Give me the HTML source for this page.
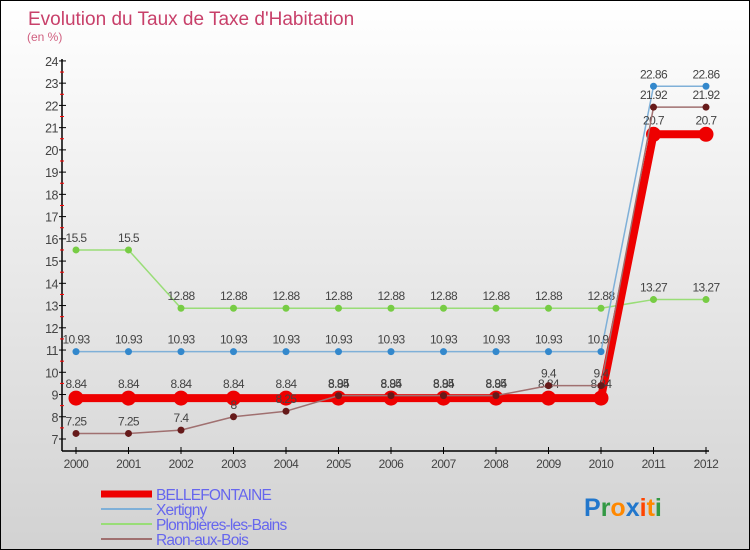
<!DOCTYPE html>
<html><head><meta charset="utf-8"><style>
html,body{margin:0;padding:0}
body{width:750px;height:550px;overflow:hidden;font-family:"Liberation Sans",sans-serif}
#wrap{position:relative;width:748px;height:548px;border:1px solid #000;background:linear-gradient(#ffffff,#d2d2d2)}
</style></head><body>
<div id="wrap">
<svg id="chart" width="748" height="548" style="position:absolute;left:0;top:0"></svg>
</div>
<script>
const years=["2000","2001","2002","2003","2004","2005","2006","2007","2008","2009","2010","2011","2012"];
const bellefontaine=[8.84,8.84,8.84,8.84,8.84,8.84,8.84,8.84,8.84,8.84,8.84,20.7,20.7];
const xertigny=[10.93,10.93,10.93,10.93,10.93,10.93,10.93,10.93,10.93,10.93,10.93,22.86,22.86];
const plombieres=[15.5,15.5,12.88,12.88,12.88,12.88,12.88,12.88,12.88,12.88,12.88,13.27,13.27];
const raon=[7.25,7.25,7.4,8,8.25,8.95,8.95,8.95,8.95,9.4,9.4,21.92,21.92];
const yTicks=[7,8,9,10,11,12,13,14,15,16,17,18,19,20,21,22,23,24];
const seriesNames=["BELLEFONTAINE","Xertigny","Plombières-les-Bains","Raon-aux-Bois"];

const NS="http://www.w3.org/2000/svg";
const svg=document.getElementById('chart');
function X(i){return 75+i*52.5;}
function Y(v){return 438-(v-7)*22.24;}
function mk(t,a,p){const e=document.createElementNS(NS,t);for(const k in a)e.setAttribute(k,a[k]);(p||svg).appendChild(e);return e;}

let t=mk('text',{x:27,y:24,fill:'#c8406a','font-size':19});t.textContent='Evolution du Taux de Taxe d\'Habitation';

t=mk('text',{x:26,y:40,fill:'#d06080','font-size':12});t.textContent='(en %)';


// axes
let ax=mk('line',{x1:61,y1:58,x2:61,y2:450,stroke:'#000','stroke-width':1.5});

ax=mk('line',{x1:61,y1:450,x2:708,y2:450,stroke:'#000','stroke-width':1.5});

yTicks.forEach(v=>{
  mk('line',{x1:58,y1:Y(v),x2:65,y2:Y(v),stroke:'#000'});
  if(v<24)mk('line',{x1:59,y1:Y(v+0.5),x2:63,y2:Y(v+0.5),stroke:'#f00'});
  const l=mk('text',{x:57,y:Y(v)+5,'text-anchor':'end',fill:'#444','font-size':12.5,'letter-spacing':'-0.5'});l.textContent=v;
  
});
years.forEach((y,i)=>{
  mk('line',{x1:X(i),y1:446,x2:X(i),y2:453,stroke:'#000'});
  const l=mk('text',{x:X(i),y:467,'text-anchor':'middle',fill:'#444','font-size':12,'letter-spacing':'-0.5'});l.textContent=y;
  
});

function series(data,name,color,lw,dot,dotFill){
  const g=mk('g',{});
  
  
  mk('polyline',{points:data.map((v,i)=>X(i)+','+Y(v)).join(' '),fill:'none',stroke:color,'stroke-width':lw,'stroke-linejoin':'round'},g);
  data.forEach((v,i)=>{
    const c=mk('circle',{cx:X(i),cy:Y(v),r:dot,fill:dotFill},g);
    
    
    const l=mk('text',{x:X(i),y:Y(v)-(dot>5?10:8),'text-anchor':'middle',fill:'#444','font-size':12,'letter-spacing':'-0.6'},g);
    l.textContent=v;
  });
}
series(plombieres,'plombieres','#99dd77',1.5,3.5,'#77cc44');
series(xertigny,'xertigny','#7fb0d8',1.5,3.5,'#3388cc');
series(bellefontaine,'bellefontaine','#ee0000',8,7.5,'#ee0000');
series(raon,'raon','#a07070',1.5,3.5,'#661a1a');

// legend
const leg=[['#ee0000',7],['#7fb0d8',2],['#99dd77',2],['#a07070',2]];
leg.forEach((s,i)=>{
  const y=493+i*15;
  const g=mk('g',{});
  
  
  mk('line',{x1:100,y1:y,x2:151,y2:y,stroke:s[0],'stroke-width':s[1]},g);
  const l=mk('text',{x:155,y:y+6,fill:'#6666ee','font-size':15.5,'letter-spacing':'-0.8'},g);l.textContent=seriesNames[i];
});
// logo
const logo=mk('text',{x:583,y:515,'font-size':25,'font-weight':'bold'});

[['P','#2277cc'],['r','#339944'],['o','#ff8800'],['x','#2277cc'],['i','#ff4400'],['t','#ff8800'],['i','#339944']].forEach(c=>{const s=mk('tspan',{fill:c[1]},logo);s.textContent=c[0];});
</script>
</body></html>
